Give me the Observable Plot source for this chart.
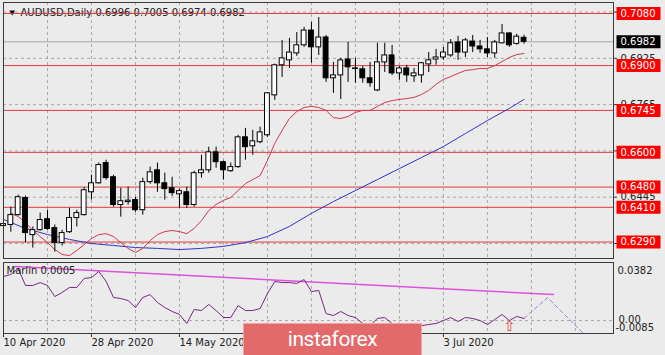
<!DOCTYPE html>
<html><head><meta charset="utf-8">
<script src="https://cdn.jsdelivr.net/npm/d3@7"></script>
<script src="https://cdn.jsdelivr.net/npm/@observablehq/plot@0.6"></script>
<style>
body{margin:0;background:#ebebeb;}
#wrap{position:relative;width:665px;height:355px;overflow:hidden;background:#ebebeb;font-family:"DejaVu Sans";}
#main,#ind{position:absolute;left:0;}
#main{top:0}
#ind{top:260px}
#logo{position:absolute;left:243px;top:323px;width:179px;height:34px;background:#e26a6a;border:1px solid #f2a3a3;box-sizing:border-box;color:#fff;font-family:Roboto;font-size:21px;letter-spacing:-0.4px;display:flex;align-items:center;justify-content:center;padding-bottom:3px;z-index:5;}
</style></head>
<body><div id="wrap"><div id="main"></div><div id="ind"></div><div id="logo">instaforex</div></div>
<script>
// ---- data ----
const titleText = "AUDUSD,Daily 0.6996 0.7005 0.6974 0.6982";
const open = [0.6345,0.6349,0.6383,0.6442,0.6314,0.6331,0.6369,0.6338,0.6287,0.6324,
0.6373,0.6383,0.6462,0.6493,0.6563,0.6514,0.6418,0.6428,0.6435,0.6400,
0.6497,0.6538,0.6493,0.6476,0.6455,0.6462,0.6418,0.6528,0.6538,0.6600,
0.6566,0.6535,0.6549,0.6652,0.6621,0.6635,0.6659,0.6797,0.6901,0.6918,
0.6942,0.6970,0.7021,0.6963,0.6997,0.6856,0.6866,0.6921,0.6890,0.6887,
0.6856,0.6814,0.6911,0.6935,0.6873,0.6890,0.6863,0.6866,0.6904,0.6921,
0.6928,0.6935,0.6980,0.6945,0.6983,0.6966,0.6956,0.6942,0.6977,0.7011,
0.6975,0.6996];
const high = [0.6360,0.6411,0.6452,0.6449,0.6342,0.6390,0.6400,0.6349,0.6331,0.6407,
0.6400,0.6478,0.6521,0.6563,0.6573,0.6521,0.6476,0.6480,0.6445,0.6511,
0.6549,0.6563,0.6528,0.6514,0.6473,0.6480,0.6535,0.6590,0.6618,0.6618,
0.6570,0.6563,0.6659,0.6683,0.6676,0.6687,0.6807,0.6905,0.6987,0.6994,
0.7014,0.7032,0.7049,0.7066,0.7004,0.6911,0.6925,0.6980,0.6925,0.6897,
0.6911,0.6977,0.6977,0.6970,0.6897,0.6901,0.6890,0.6911,0.6945,0.6956,
0.6963,0.6990,0.7001,0.6994,0.7004,0.6987,0.6997,0.6987,0.7042,0.7014,
0.7008,0.7005];
const low = [0.6314,0.6324,0.6380,0.6287,0.6269,0.6328,0.6331,0.6255,0.6276,0.6320,
0.6342,0.6380,0.6435,0.6490,0.6504,0.6411,0.6376,0.6418,0.6393,0.6383,
0.6490,0.6462,0.6435,0.6448,0.6407,0.6407,0.6411,0.6511,0.6528,0.6545,
0.6504,0.6531,0.6545,0.6573,0.6590,0.6630,0.6652,0.6780,0.6859,0.6890,
0.6932,0.6963,0.6908,0.6935,0.6842,0.6804,0.6783,0.6842,0.6839,0.6839,
0.6825,0.6810,0.6876,0.6866,0.6849,0.6842,0.6842,0.6839,0.6876,0.6901,
0.6918,0.6928,0.6918,0.6928,0.6945,0.6942,0.6928,0.6925,0.6975,0.6963,
0.6970,0.6974];
const close = [0.6352,0.6383,0.6445,0.6321,0.6331,0.6366,0.6335,0.6287,0.6321,0.6373,
0.6390,0.6469,0.6493,0.6556,0.6511,0.6418,0.6431,0.6433,0.6400,0.6497,
0.6531,0.6493,0.6473,0.6459,0.6466,0.6418,0.6528,0.6538,0.6600,0.6566,
0.6538,0.6549,0.6652,0.6618,0.6638,0.6669,0.6804,0.6901,0.6925,0.6945,
0.6970,0.7021,0.6963,0.6997,0.6856,0.6866,0.6918,0.6894,0.6888,0.6856,
0.6839,0.6911,0.6935,0.6873,0.6890,0.6866,0.6873,0.6908,0.6918,0.6928,
0.6945,0.6977,0.6945,0.6987,0.6966,0.6956,0.6942,0.6980,0.7011,0.6970,
0.7000,0.6982];
// red moving average, bars 1..71
const redMA = [0.6390,0.6378,0.6358,0.6330,0.6309,0.6288,0.6264,0.6247,0.6243,
0.6261,0.6281,0.6302,0.6316,0.6319,0.6309,0.6288,0.6268,0.6254,0.6268,
0.6295,0.6316,0.6326,0.6330,0.6326,0.6319,0.6337,0.6364,0.6399,0.6420,
0.6434,0.6444,0.6468,0.6492,0.6506,0.6520,0.6572,0.6631,0.6676,0.6717,
0.6741,0.6755,0.6759,0.6755,0.6745,0.6720,0.6717,0.6724,0.6738,0.6745,
0.6745,0.6759,0.6772,0.6779,0.6783,0.6786,0.6790,0.6800,0.6814,0.6835,
0.6852,0.6862,0.6873,0.6883,0.6886,0.6890,0.6890,0.6900,0.6914,0.6928,
0.6938,0.6942];
// blue moving average, read at these bars
const blueIdx = [0,3,6,9,12,15,18,21,24,27,30,33,36,39,42,45,48,51,54,57,60,63,66,69,71];
const blueMA = [0.6368,0.6337,0.6316,0.6299,0.6285,0.6278,0.6271,0.6268,0.6264,0.6268,
0.6275,0.6288,0.6309,0.6344,0.6389,0.6430,0.6468,0.6506,0.6544,0.6582,
0.6620,0.6665,0.6710,0.6752,0.6783];
const levels = [0.7080,0.6900,0.6745,0.6600,0.6480,0.6410,0.6290];
const bid = 0.6982;
const priceGrid = [0.7085,0.6925,0.6765,0.6605,0.6445,0.6285];
const gridX = [6,12,18,24,30,36,42,48,54,60,66,72,78];
const dateIdx = [0,12,24,36,48,60];
const dateLabels = ["10 Apr 2020","28 Apr 2020","14 May 2020","1 Jun 2020","17 Jun 2020","3 Jul 2020"];
// Marlin oscillator, bars 0..71
const marlin = [0.0290,0.0303,0.0343,0.0231,0.0231,0.0250,0.0231,0.0158,0.0185,0.0218,
0.0218,0.0277,0.0283,0.0323,0.0257,0.0152,0.0145,0.0132,0.0086,0.0152,
0.0171,0.0119,0.0086,0.0060,0.0040,-0.0019,0.0073,0.0066,0.0106,0.0066,
0.0020,0.0020,0.0099,0.0066,0.0066,0.0079,0.0178,0.0257,0.0250,0.0250,
0.0244,0.0270,0.0191,0.0198,0.0046,0.0033,0.0060,0.0033,0.0020,-0.0019,
-0.0033,0.0014,0.0020,-0.0019,-0.0046,-0.0052,-0.0046,-0.0033,-0.0026,-0.0019,
0.0000,0.0020,-0.0006,0.0020,0.0014,0.0000,-0.0026,0.0007,0.0040,0.0000,
0.0027,0.0014];
const trendIdx = [1.6, 75.0];
const trendVal = [0.0355, 0.0171];
const forecastIdx = [71, 74.2, 79.1];
const forecastVal = [0.0014, 0.0152, -0.0085];
const arrowIdx = [69];
const arrowVal = [-0.0036];
const indTop = 0.0382, indBottom = -0.0085;
const marlinLabel = "Marlin 0.0005";

// ---- build ----
const bars = open.map((o, i) => ({i, o, h: high[i], l: low[i], c: close[i], up: close[i] >= o}));
const redPts = redMA.map((v, k) => ({i: k + 1, v}));
const bluePts = blueIdx.map((i, k) => ({i, v: blueMA[k]}));
const marlinPts = marlin.map((v, i) => ({i, v}));
const trendPts = trendIdx.map((i, k) => ({i, v: trendVal[k]}));
const fcPts = forecastIdx.map((i, k) => ({i, v: forecastVal[k]}));
const arrowPts = arrowIdx.map((i, k) => ({i, v: arrowVal[k]}));
const xDomain = [0, 83.2];
const gridStyle = {stroke: "#a8a8a8", strokeDasharray: "3,3", strokeWidth: 1};
const boxSymbol = {draw(ctx) { ctx.moveTo(-22, -6.5); ctx.lineTo(22, -6.5); ctx.lineTo(22, 6.5); ctx.lineTo(-22, 6.5); ctx.closePath(); }};
const font = {fontFamily: "DejaVu Sans", fontSize: "10px", background: "transparent", overflow: "visible"};

const main = Plot.plot({
  width: 665, height: 260,
  marginLeft: 3, marginRight: 52, marginTop: 2, marginBottom: 2,
  x: {domain: xDomain, axis: null},
  y: {domain: [0.62331, 0.71180], label: null},
  style: font,
  marks: [
    Plot.ruleX(gridX, gridStyle),
    Plot.ruleY(priceGrid, gridStyle),
    Plot.ruleY([bid], {stroke: "#a6a6a6"}),
    Plot.text([titleText], {frameAnchor: "top-left", dx: 17, dy: 10, lineAnchor: "middle", textAnchor: "start", fill: "#222"}),
    Plot.text(["▼"], {frameAnchor: "top-left", dx: 6, dy: 10, lineAnchor: "middle", fontSize: 7, fill: "#000"}),
    Plot.ruleY(levels, {stroke: "#e23a3a", strokeWidth: 1}),
    Plot.line(bluePts, {x: "i", y: "v", stroke: "#3434c4", strokeWidth: 1}),
    Plot.line(redPts, {x: "i", y: "v", stroke: "#d0384e", strokeWidth: 1}),
    Plot.ruleX(bars, {x: "i", y1: "l", y2: "h", stroke: "#000", strokeWidth: 1}),
    Plot.rect(bars, {x1: d => d.i - 0.33, x2: d => d.i + 0.33, y1: "o", y2: "c", fill: d => d.up ? "#fff" : "#000", stroke: "#000", strokeWidth: 1}),
    Plot.frame({stroke: "#3a3a3a"}),
    Plot.axisY({anchor: "right", ticks: priceGrid, tickFormat: d => d.toFixed(4), tickSize: 3, tickPadding: 4, fill: "#222", stroke: "#333", label: null}),
    Plot.dot(levels, {y: d => d, frameAnchor: "right", dx: 25, symbol: boxSymbol, fill: "#ff0000", stroke: "none"}),
    Plot.text(levels, {y: d => d, frameAnchor: "right", textAnchor: "start", dx: 7, text: d => d.toFixed(4), fill: "#fff"}),
    Plot.dot([bid], {y: d => d, frameAnchor: "right", dx: 25, symbol: boxSymbol, fill: "#000", stroke: "none"}),
    Plot.text([bid], {y: d => d, frameAnchor: "right", textAnchor: "start", dx: 7, text: d => d.toFixed(4), fill: "#fff"})
  ]
});
document.getElementById("main").appendChild(main);

const ind = Plot.plot({
  width: 665, height: 95,
  marginLeft: 3, marginRight: 52, marginTop: 2, marginBottom: 22,
  x: {domain: xDomain, label: null},
  y: {domain: [indBottom, indTop], axis: null},
  style: font,
  marks: [
    Plot.ruleX(gridX, gridStyle),
    Plot.ruleY([0], gridStyle),
    Plot.line(trendPts, {x: "i", y: "v", stroke: "#dc52dc", strokeWidth: 1.5}),
    Plot.line(marlinPts, {x: "i", y: "v", stroke: "#7a2585", strokeWidth: 1}),
    Plot.line(fcPts, {x: "i", y: "v", stroke: "#a47ed8", strokeWidth: 1, strokeDasharray: "4,3", clip: true}),
    Plot.text(arrowPts, {x: "i", y: "v", text: () => "⇧", fill: "#e83030", fontSize: 14}),
    Plot.text([marlinLabel], {frameAnchor: "top-left", dx: 3, dy: 8, lineAnchor: "middle", textAnchor: "start", fill: "#222"}),
    Plot.frame({stroke: "#3a3a3a"}),
    Plot.axisX({anchor: "bottom", ticks: dateIdx, tickFormat: d => dateLabels[dateIdx.indexOf(d)], textAnchor: "start", tickSize: 4, tickPadding: 1, fill: "#222", stroke: "#333", label: null}),
    Plot.text([indTop], {y: d => d, frameAnchor: "right", textAnchor: "start", dx: 4, dy: 8, text: d => d.toFixed(4), fill: "#222"}),
    Plot.text([0], {y: d => d, frameAnchor: "right", textAnchor: "start", dx: 5, dy: -1, text: () => "0.00", fill: "#222"}),
    Plot.text([indBottom], {y: d => d, frameAnchor: "right", textAnchor: "start", dx: 2, dy: -6, text: d => d.toFixed(4), fill: "#222"})
  ]
});
document.getElementById("ind").appendChild(ind);
</script>
</body></html>
